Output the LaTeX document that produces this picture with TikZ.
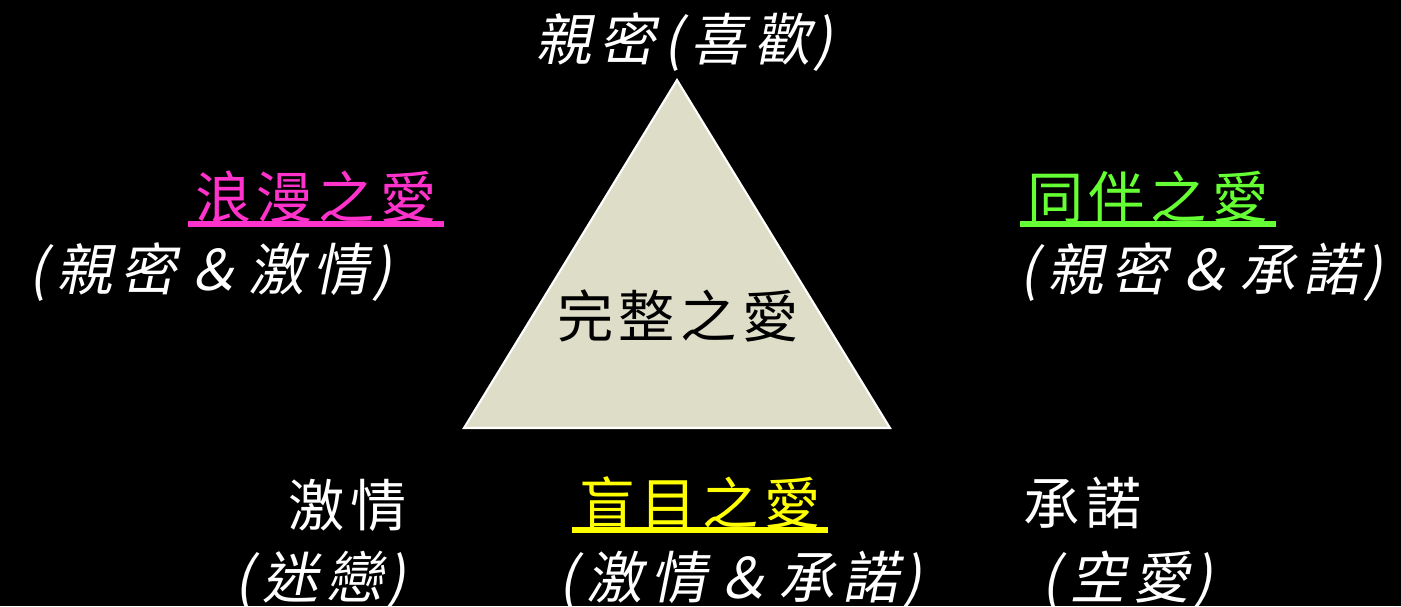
\documentclass[tikz,border=0pt]{standalone}
\usepackage{fontspec}
\newfontfamily\cjk[LetterSpace=10]{Noto Sans CJK TC}
\newfontfamily\cjkit[FakeSlant=0.2,LetterSpace=14]{Noto Sans CJK TC}
\usetikzlibrary{positioning}
\definecolor{pinklove}{HTML}{FF33CC}
\definecolor{greenlove}{HTML}{66FF33}
\definecolor{yellowlove}{HTML}{FFFF00}
\definecolor{trifill}{HTML}{DEDEC8}
\newcommand{\lpar}{(\hspace{5pt}}
\newcommand{\rpar}{\hspace{2pt})}

\begin{document}
\begin{tikzpicture}[x=0.02cm, y=-0.02cm,
  label/.style = {font=\cjk\fontsize{32}{36}\selectfont, inner sep=0pt},
  note/.style = {font=\cjkit\fontsize{32}{36}\selectfont, text=white, inner sep=0pt},
  uline/.style = {line width=3.5pt}]
\useasboundingbox (0,0) rectangle (1401,606);
\fill[black] (0,0) rectangle (1401,606);
\clip (0,0) rectangle (1401,606);
% the triangle
\filldraw[fill=trifill, draw=white, line width=1.2pt] (677,80) -- (890,428) -- (464,428) -- cycle;
\node[label] (whole) at (678,316) {完整之愛};
% top
\node[note] (top) at (684,42) {親密(喜歡\rpar};
% left
\node[label, text=pinklove] (roman) at (316,197) {浪漫之愛};
\node[note] (romannote) at (210,272) {\lpar 親密＆激情\rpar};
% right
\node[label, text=greenlove] (friend) at (1148,197) {同伴之愛};
\node[note] (friendnote) at (1201,272) {\lpar 親密＆承諾\rpar};
% bottom
\node[label, text=white] (passion) at (348,505) {激情};
\node[note] (passionnote) at (320,580) {\lpar 迷戀\rpar};
\node[label, text=yellowlove] (blind) at (700,503) {盲目之愛};
\node[note] (blindnote) at (740,580) {\lpar 激情＆承諾\rpar};
\node[label, text=white] (commit) at (1083,503) {承諾};
\node[note] (commitnote) at (1127,580) {\lpar 空愛\rpar};
% underlines
\draw[pinklove, uline] (188,224) -- (444,224);
\draw[greenlove, uline] (1020,224) -- (1276,224);
\draw[yellowlove, uline] (572,530) -- (828,530);
\end{tikzpicture}
\end{document}
